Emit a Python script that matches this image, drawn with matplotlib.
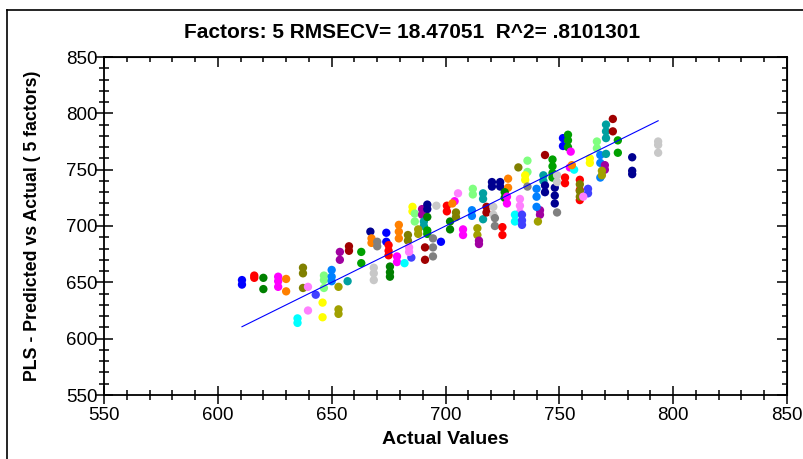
#!/usr/bin/env python3
#PLS cross-validation plot: predicted vs actual with replicate points
import numpy as np
import matplotlib
matplotlib.use('Agg')
import matplotlib.pyplot as plt
from matplotlib.lines import Line2D

plt.rcParams['font.family'] = ['Liberation Sans', 'DejaVu Sans']

#colours used by the sample clusters
pal = {
	'red': '#ff0000', 'dgreen': '#008000', 'blue': '#0000ff', 'mag': '#ff00ff',
	'orange': '#ff8000', 'olive': '#808000', 'violet': '#ff80ff', 'slate': '#4040ff',
	'lgreen': '#80ff80', 'dodger': '#0080ff', 'yellow': '#ffff00', 'cyan': '#00ffff',
	'ochre': '#a0a000', 'teal': '#00a0a0', 'purple': '#a000a0', 'dred': '#a00000',
	'green': '#00a000', 'lgray': '#c8c8c8', 'gray': '#808080', 'navy': '#000090',
}

#actual value of every sample
actual = [610.6, 616, 620, 626.5, 630, 637.4, 639.6, 643, 646.6, 650,
	646, 635, 653, 657, 653.6, 657.6, 663, 668.5, 667, 667.5,
	670, 675.6, 674, 675, 679.5, 683.5, 678.7, 682, 685, 684,
	685.5, 686.5, 689.7, 690.5, 688, 692, 696, 692, 692, 694.5,
	698, 691, 700.6, 704, 705.5, 712, 711.6, 702, 704.6, 707.7,
	703, 714, 714.7, 716.5, 718, 721, 721.7, 725, 720.4, 724,
	727.5, 726, 727, 732.7, 730.5, 733.6, 732, 736, 735, 736,
	743.7, 747, 743, 743.7, 748, 749, 741.5, 740.6, 740, 749,
	752.5, 754.6, 756.5, 755.5, 751.6, 753.8, 755, 759, 759, 762.6,
	760.5, 763.4, 766.5, 768, 770, 768.7, 770.5, 773.5, 775.7, 782,
	793.4]

#cross-validated predictions (replicates) of every sample
predicted = [[652, 648], [656, 654], [654, 644], [655, 651, 646], [653, 642],
	[663, 658, 645], [646, 625], [639], [656, 652, 645], [661, 655, 651],
	[632, 619], [618, 614], [646, 626, 622], [651], [677, 670],
	[682, 678], [677, 667], [663, 658, 652], [695], [689, 685],
	[686, 682], [664, 659, 655], [694, 686], [683, 678, 674], [701, 695, 689],
	[692, 687], [673, 668], [667], [672], [681, 677],
	[717, 713], [711, 704], [715, 710], [704, 700], [697, 693],
	[719, 715], [718], [696, 693], [708], [689, 681, 673],
	[686], [681, 670], [718, 713], [722], [729],
	[733, 728], [714, 709], [704, 697], [712, 708], [697, 692],
	[720], [698, 692], [687, 684], [729, 724, 706], [717, 712],
	[717, 710], [707, 700], [699, 692], [739, 735], [739, 735],
	[742, 734], [730, 725], [726, 720], [724, 718, 712], [710, 704],
	[710, 705, 701], [752], [758, 748], [745, 741], [735],
	[763], [759, 753, 747, 743], [745, 740], [736, 730], [734, 727, 720],
	[712], [714, 710], [704], [733, 726, 717], [745, 739],
	[743, 738], [752], [750], [754], [778, 771],
	[781, 776, 770], [766], [741, 732, 723], [737, 731, 726], [733, 729],
	[726], [760, 756], [775, 769], [763, 756, 743], [754, 750],
	[749, 745], [790, 784, 778, 764], [795, 784], [776, 765], [761, 749, 746],
	[775, 772, 765]]

colour = ['blue', 'red', 'dgreen', 'mag', 'orange', 'olive', 'violet', 'slate', 'lgreen', 'dodger',
	'yellow', 'cyan', 'ochre', 'teal', 'purple', 'dred', 'green', 'lgray', 'navy', 'orange',
	'gray', 'dgreen', 'blue', 'red', 'orange', 'olive', 'mag', 'cyan', 'slate', 'violet',
	'yellow', 'lgreen', 'purple', 'teal', 'ochre', 'navy', 'lgray', 'green', 'dgreen', 'gray',
	'blue', 'dred', 'red', 'mag', 'violet', 'lgreen', 'dodger', 'dgreen', 'olive', 'mag',
	'orange', 'ochre', 'purple', 'teal', 'dred', 'lgray', 'gray', 'red', 'navy', 'navy',
	'orange', 'dgreen', 'mag', 'violet', 'cyan', 'slate', 'olive', 'lgreen', 'yellow', 'gray',
	'dred', 'green', 'teal', 'navy', 'navy', 'gray', 'purple', 'ochre', 'dodger', 'lgray',
	'red', 'mag', 'cyan', 'orange', 'blue', 'green', 'mag', 'red', 'olive', 'slate',
	'violet', 'yellow', 'lgreen', 'dodger', 'purple', 'ochre', 'teal', 'dred', 'green', 'navy',
	'lgray']

title = 'Factors: 5 RMSECV= 18.47051  R^2= .8101301'

#flatten the replicates into points
xs, ys, cs = [], [], []
for a, p, c in zip(actual, predicted, colour):
	for v in p:
		xs.append(a)
		ys.append(v)
		cs.append(pal[c])

W, H = 804, 459
fig = plt.figure(figsize=(W/100, H/100), dpi=100)
ax = fig.add_axes([104/W, 1-395/H, (787-104)/W, (395-57)/H])

ax.scatter(xs, ys, c=cs, s=36, linewidths=0, zorder=2)
#unit line from min to max actual
ax.plot([min(actual), max(actual)], [min(actual), max(actual)], color='#0000ff', lw=0.8, zorder=3)

ax.set_xlim(550, 850)
ax.set_ylim(550, 850)
ticks = np.arange(550, 851, 50)
minor = np.arange(550, 851, 10)
ax.set_xticks(ticks)
ax.set_yticks(ticks)
ax.set_xticks(minor, minor=True)
ax.set_yticks(minor, minor=True)
ax.tick_params(which='major', direction='inout', length=13, width=1.1, labelsize=13.5)
ax.tick_params(axis='x', which='major', pad=2)
ax.tick_params(axis='y', which='major', pad=-2)
ax.tick_params(which='minor', direction='inout', length=7, width=1.1)
for s in ax.spines.values():
	s.set_linewidth(1.3)

#ticks on top and right point inwards only
top = ax.secondary_xaxis('top')
top.set_xticks(ticks)
top.set_xticks(minor, minor=True)
top.tick_params(which='major', direction='in', length=7, width=1.1, labeltop=False)
top.tick_params(which='minor', direction='in', length=3.5, width=1.1)
right = ax.secondary_yaxis('right')
right.set_yticks(ticks)
right.set_yticks(minor, minor=True)
right.tick_params(which='major', direction='in', length=7, width=1.1, labelright=False)
right.tick_params(which='minor', direction='in', length=3.5, width=1.1)

fig.text(412/W, 1-32/H, title, ha='center', va='center', fontsize=15, fontweight='bold')
fig.text(445/W, 1-440/H, 'Actual Values', ha='center', va='center', fontsize=14, fontweight='bold')
fig.text(33/W, 1-226/H, 'PLS - Predicted vs Actual ( 5 factors)', ha='center', va='center',
	rotation=90, fontsize=12.8, fontweight='bold')

#outer frame, cut at right and bottom
fig.add_artist(Line2D([7/W, 7/W], [0, 1-10/H], color='black', lw=1.2))
fig.add_artist(Line2D([7/W, 1], [1-10/H, 1-10/H], color='black', lw=1.2))

plt.savefig('out.png', dpi=100)
